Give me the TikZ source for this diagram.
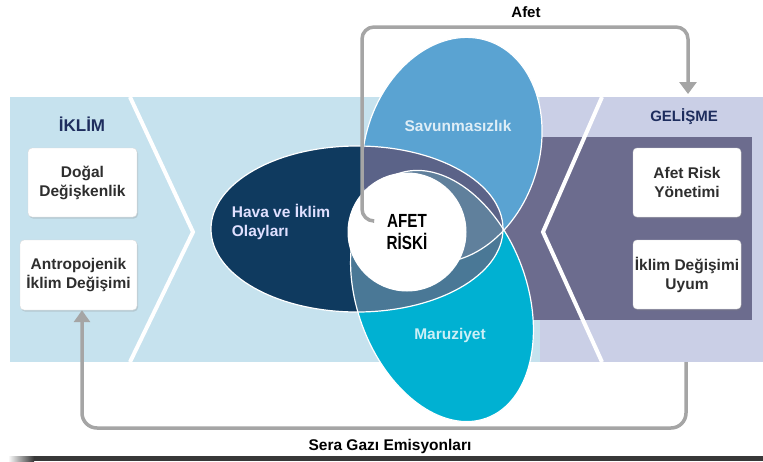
\documentclass[tikz,border=0pt]{standalone}
\usepackage{fontspec}
\setmainfont{Liberation Sans}
\newfontfamily\narrowfont[FakeStretch=0.8]{Liberation Sans}
\usetikzlibrary{arrows.meta,shadows}
\definecolor{bandblue}{HTML}{C6E2EE}
\definecolor{lav}{HTML}{CACFE6}
\definecolor{slate}{HTML}{6C6C8E}
\definecolor{havacol}{HTML}{0F3A5F}
\definecolor{savcol}{HTML}{5AA3D2}
\definecolor{marcol}{HTML}{00B1D2}
\definecolor{hscol}{HTML}{5B6388}
\definecolor{hmcol}{HTML}{4A7896}
\definecolor{smcol}{HTML}{6E9BB6}
\definecolor{hsmcol}{HTML}{60809C}
\definecolor{linegray}{HTML}{A5A5A5}
\definecolor{titlecol}{HTML}{1E2D5E}
\definecolor{boxtext}{HTML}{2E2E2E}
\tikzset{
  savrot/.style={rotate around={72:(452,150)}},
  marrot/.style={rotate around={-70:(442,296)}},
  infobox/.style={draw=black!15, fill=white, rounded corners=4pt, align=center,
    font=\fontsize{15.5}{19}\selectfont\bfseries, text=boxtext, inner sep=0pt,
    minimum width=108pt, minimum height=69pt,
    drop shadow={opacity=0.25, shadow xshift=1pt, shadow yshift=-1.5pt}},
  grouptitle/.style={font=\fontsize{16}{19}\selectfont\bfseries, text=titlecol},
  lobelabel/.style={font=\fontsize{15.5}{19}\selectfont\bfseries, align=left},
  flowline/.style={draw=linegray, line width=3.5pt},
  chevline/.style={draw=white, line width=4pt},
  lobeline/.style={draw=white, line width=1.2pt}
}
\begin{document}
\begin{tikzpicture}[x=1pt,y=-1pt]
\useasboundingbox (0,0) rectangle (763,461);
\fill[white] (0,0) rectangle (763,461);
% bands
\fill[bandblue] (10,97) rectangle (541,362);
\fill[lav] (540,97) rectangle (763,362);
\fill[slate] (480,137) rectangle (752,320);
% chevrons
\draw[chevline] (130,97) -- (193,232) -- (130,362);
\draw[chevline] (602,97) -- (543,232) -- (602,362);
% lobes
\fill[havacol] (357,229) ellipse [x radius=146, y radius=83];
\fill[savcol, savrot] (452,150) ellipse [x radius=115, y radius=87];
\fill[marcol, marrot] (442,296) ellipse [x radius=130, y radius=85];
\begin{scope}
  \clip[savrot] (452,150) ellipse [x radius=115, y radius=87];
  \fill[smcol, marrot] (442,296) ellipse [x radius=130, y radius=85];
\end{scope}
\begin{scope}
  \clip (357,229) ellipse [x radius=146, y radius=83];
  \fill[hscol, savrot] (452,150) ellipse [x radius=115, y radius=87];
  \fill[hmcol, marrot] (442,296) ellipse [x radius=130, y radius=85];
  \clip[savrot] (452,150) ellipse [x radius=115, y radius=87];
  \fill[hsmcol, marrot] (442,296) ellipse [x radius=130, y radius=85];
\end{scope}
\draw[lobeline] (357,229) ellipse [x radius=146, y radius=83];
\draw[lobeline, savrot] (452,150) ellipse [x radius=115, y radius=87];
\draw[lobeline, marrot] (442,296) ellipse [x radius=130, y radius=85];
% centre
\node[circle, fill=white, draw=white, line width=1pt, minimum size=118pt, inner sep=0pt,
  font=\narrowfont\fontsize{19}{22}\selectfont\bfseries, text=black, align=center]
  (risk) at (407,232) {AFET\\RİSKİ};
% lobe labels
\node[lobelabel, text=white!88!blue] (hava) at (281,222) {Hava ve İklim\\Olayları};
\node[lobelabel, text=white!80!savcol] (sav) at (458,126) {Savunmasızlık};
\node[lobelabel, text=white!80!marcol] (mar) at (450,335) {Maruziyet};
% titles
\node[grouptitle, font=\fontsize{17}{19}\selectfont\bfseries] (iklim) at (82,124) {İKLİM};
\node[grouptitle, font=\fontsize{15}{19}\selectfont\bfseries] (gelisme) at (684,117) {GELİŞME};
% boxes
\node[infobox, minimum width=109pt] (dogal) at (82.5,182.5) {Doğal\\Değişkenlik};
\node[infobox, minimum width=117pt, minimum height=70pt] (antro) at (78.5,275) {Antropojenik\\İklim Değişimi};
\node[infobox] (afetrisk) at (687,182.5) {Afet Risk\\Yönetimi};
\node[infobox] (uyum) at (687,274.5) {İklim Değişimi\\Uyum};
% flow connectors
\coordinate (afetstart) at (373,221);
\coordinate (afetend) at (688,94);
\draw[flowline, rounded corners=12pt, -{Triangle[width=17pt,length=12pt]}]
  (afetstart) -- (362,221) -- (362,27) -- (688,27) -- (afetend);
\node[font=\fontsize{15}{18}\selectfont\bfseries] (afetlbl) at (526,12) {Afet};
\coordinate (serastart) at (686,362);
\coordinate (loopL) at (82,428);
\draw[flowline, rounded corners=15pt, -{Triangle[width=16pt,length=12pt]}]
  (serastart) -- (686,428) -- (loopL) -- (loopL |- antro.south);
\node[font=\fontsize{15.5}{18}\selectfont\bfseries] (seralbl) at (390,446) {Sera Gazı Emisyonları};
% bottom bar
\shade[left color=white, right color=black!78] (8,456) rectangle (34,461);
\fill[black!78] (34,456) rectangle (763,461);
\end{tikzpicture}
\end{document}
